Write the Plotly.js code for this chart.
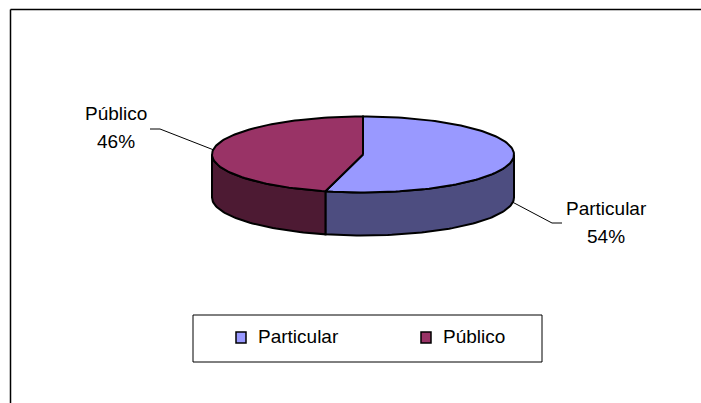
<!DOCTYPE html>
<html>
<head>
<meta charset="utf-8">
<script src="https://cdn.plot.ly/plotly-3.0.1.min.js"></script>
<style>
  html, body { margin: 0; padding: 0; background: #ffffff; }
  #chart { width: 701px; height: 403px; }
</style>
</head>
<body>
<div id="chart"></div>
<script>
// ---- data ----
const categories = ['Particular', 'Público'];
const values = [54, 46];
const topColors = ['#9999FF', '#993366'];
const sideColors = ['#4D4D80', '#4D1A33'];

// ---- geometry (pixel space of the page) ----
const W = 701, H = 403;
const CX = 363, CY = 154.5, RX = 151, RY = 38, DEPTH = 43;
const FONT = 'Liberation Sans, Arial, sans-serif';

function pt(theta, dy) {
  const r = theta * Math.PI / 180;
  return [CX + RX * Math.sin(r), CY - RY * Math.cos(r) + (dy || 0)];
}
function arc(a1, a2, dy) {
  const n = Math.max(2, Math.ceil(Math.abs(a2 - a1) / 1.5));
  const out = [];
  for (let i = 0; i <= n; i++) out.push(pt(a1 + (a2 - a1) * i / n, dy));
  return out;
}

const total = values.reduce((a, b) => a + b, 0);
const slices = [];
let acc = 0;
values.forEach((v, i) => {
  const a1 = acc / total * 360;
  acc += v;
  const a2 = acc / total * 360;
  slices.push({ a1, a2, i });
});

const traces = [];
// side walls (front half: 90..270 deg clockwise from top)
slices.forEach(s => {
  const lo = Math.max(s.a1, 90), hi = Math.min(s.a2, 270);
  if (hi <= lo) return;
  const topArc = arc(lo, hi, 0);
  const botArc = arc(hi, lo, DEPTH);
  const poly = topArc.concat(botArc);
  poly.push(topArc[0]);
  traces.push({
    type: 'scatter', mode: 'lines', fill: 'toself',
    x: poly.map(p => p[0]), y: poly.map(p => p[1]),
    fillcolor: sideColors[s.i], line: { color: '#000000', width: 2 },
    hoverinfo: 'skip', showlegend: false
  });
});
// top faces
slices.forEach(s => {
  const poly = [[CX, CY]].concat(arc(s.a1, s.a2, 0));
  poly.push([CX, CY]);
  traces.push({
    type: 'scatter', mode: 'lines', fill: 'toself',
    x: poly.map(p => p[0]), y: poly.map(p => p[1]),
    fillcolor: topColors[s.i], line: { color: '#000000', width: 2 },
    hoverinfo: 'skip', showlegend: false
  });
});

// data labels with leader lines
const labelLayout = [
  { elbow: [552, 223], end: [562, 223], tx: 606, ty1: 208, ty2: 236 },
  { elbow: [160, 129], end: [150, 129], tx: 116, ty1: 113, ty2: 141 }
];
const annotations = [];
const shapes = [];
slices.forEach(s => {
  const mid = (s.a1 + s.a2) / 2;
  const front = mid > 90 && mid < 270;
  const start = pt(mid, front ? DEPTH : 0);
  const L = labelLayout[s.i];
  traces.push({
    type: 'scatter', mode: 'lines',
    x: [start[0], L.elbow[0], L.end[0]], y: [start[1], L.elbow[1], L.end[1]],
    line: { color: '#000000', width: 1 }, hoverinfo: 'skip', showlegend: false
  });
  const pct = Math.round(values[s.i] / total * 100) + '%';
  annotations.push({ x: L.tx, y: L.ty1, xref: 'x', yref: 'y', text: categories[s.i],
    showarrow: false, font: { family: FONT, size: 19, color: '#000000' } });
  annotations.push({ x: L.tx, y: L.ty2, xref: 'x', yref: 'y', text: pct,
    showarrow: false, font: { family: FONT, size: 19, color: '#000000' } });
});

// legend (box, keys, texts)
shapes.push({ type: 'rect', xref: 'x', yref: 'y', x0: 193, x1: 542, y0: 315, y1: 362,
  line: { color: '#000000', width: 1 }, fillcolor: 'rgba(0,0,0,0)' });
const legendKeyX = [236, 421];
categories.forEach((c, i) => {
  shapes.push({ type: 'rect', xref: 'x', yref: 'y', x0: legendKeyX[i], x1: legendKeyX[i] + 10,
    y0: 332, y1: 343, line: { color: '#000000', width: 1.5 }, fillcolor: topColors[i] });
  annotations.push({ x: legendKeyX[i] + 20, y: 336, xref: 'x', yref: 'y', xanchor: 'left',
    text: c, showarrow: false, font: { family: FONT, size: 19, color: '#000000' } });
});

// chart frame (top and left edges visible)
shapes.push({ type: 'line', xref: 'x', yref: 'y', x0: 10.5, x1: W, y0: 9.5, y1: 9.5,
  line: { color: '#000000', width: 1.5 } });
shapes.push({ type: 'line', xref: 'x', yref: 'y', x0: 10.5, x1: 10.5, y0: 9.5, y1: H,
  line: { color: '#000000', width: 1.5 } });

const layout = {
  width: W, height: H,
  margin: { l: 0, r: 0, t: 0, b: 0 },
  paper_bgcolor: '#ffffff', plot_bgcolor: '#ffffff',
  xaxis: { range: [0, W], visible: false, fixedrange: true },
  yaxis: { range: [H, 0], visible: false, fixedrange: true },
  showlegend: false,
  annotations: annotations,
  shapes: shapes
};

Plotly.newPlot('chart', traces, layout, { staticPlot: true, displayModeBar: false });
</script>
</body>
</html>
